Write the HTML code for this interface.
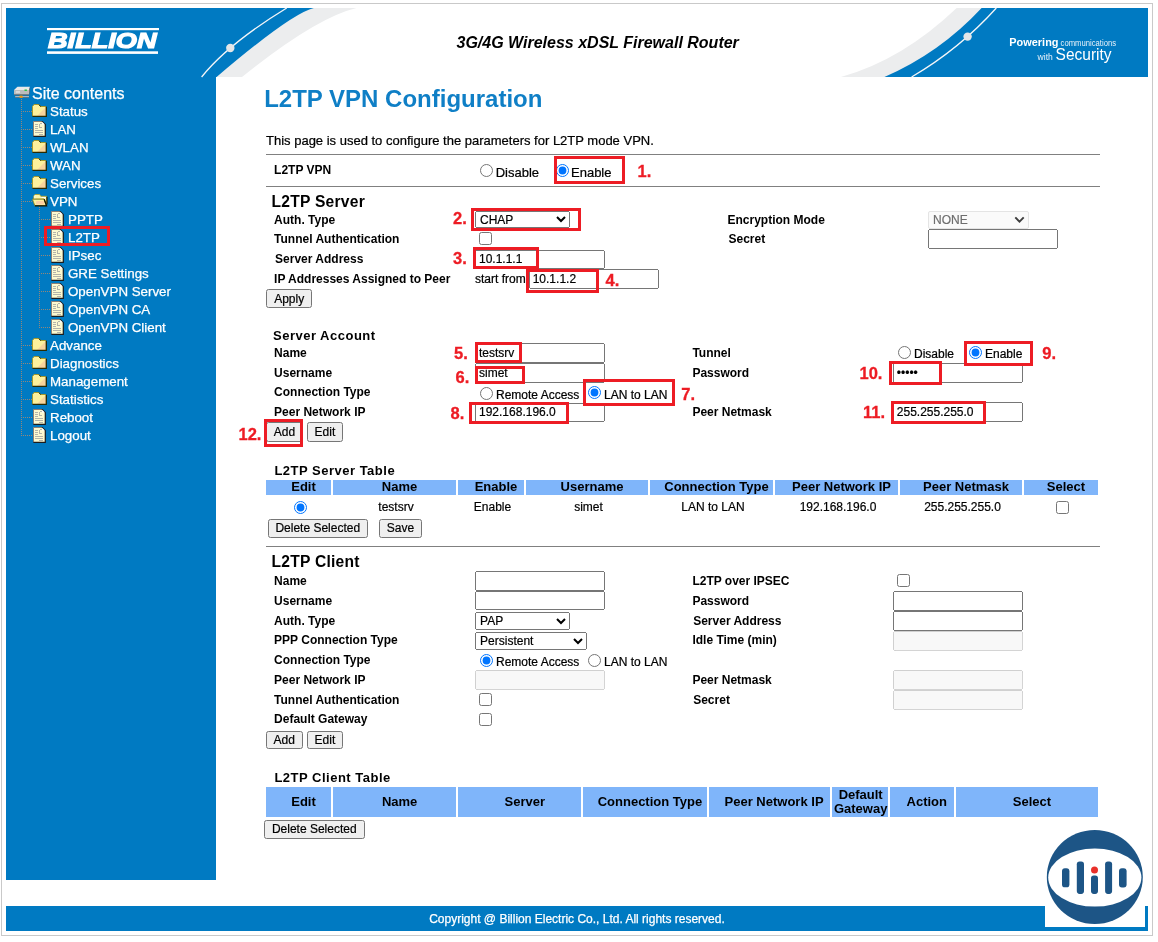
<!DOCTYPE html>
<html lang="en">
<head>
<meta charset="utf-8">
<title>L2TP VPN Configuration</title>
<style>
*{box-sizing:border-box;}
html,body{margin:0;padding:0;}
body{width:1158px;height:942px;position:relative;overflow:hidden;background:#fff;font-family:"Liberation Sans",Arial,sans-serif;color:#000;}
#frame{position:absolute;left:1px;top:3px;width:1152px;height:933px;border:1px solid #c9c9c9;}
#side{position:absolute;left:6px;top:8px;width:210px;height:872px;background:#007ac2;}
#hdr{position:absolute;left:0;top:0;width:1158px;height:80px;}
#foot{position:absolute;left:6px;top:906px;width:1142px;height:25px;background:#007ac2;color:#fff;font-size:12px;text-align:center;line-height:27px;-webkit-text-stroke:0.25px #fff;overflow:hidden;}
#tree{position:absolute;left:0;top:0;}
#tree .ic{position:absolute;display:block;}
#tree .tt{position:absolute;color:#fff;font-size:16px;-webkit-text-stroke:0.25px #fff;line-height:18px;white-space:nowrap;}
#tree .ti{position:absolute;color:#fff;font-size:13.33px;-webkit-text-stroke:0.25px #fff;line-height:18px;white-space:nowrap;}
#tree .vd{position:absolute;width:1px;background:repeating-linear-gradient(to bottom,#968778 0,#968778 1px,transparent 1px,transparent 2px);}
#tree .hd{position:absolute;height:1px;background:repeating-linear-gradient(to right,#968778 0,#968778 1px,transparent 1px,transparent 2px);}
.rb{position:absolute;border:3px solid #ed1c24;}
#main{position:absolute;left:0;top:0;}
#main .t{position:absolute;line-height:1;white-space:nowrap;}
#main .h1{color:#0f7fc6;}
#main .hd{letter-spacing:0.5px;}
#main .hb{letter-spacing:0.25px;}
#main .rn{color:#ed1c24;-webkit-text-stroke:0.3px #ed1c24;}
#main .hr{position:absolute;height:1px;background:#808080;}
#main .in{-webkit-text-stroke:0.2px #000;position:absolute;margin:0;font-family:"Liberation Sans",Arial,sans-serif;font-size:12px;padding:1px 2px;}
#main .sel{-webkit-text-stroke:0.2px currentColor;position:absolute;margin:0;font-family:"Liberation Sans",Arial,sans-serif;font-size:12px;padding:0;}
#main .rd{position:absolute;margin:0;width:13px;height:13px;}
#main .ck{position:absolute;margin:0;width:13px;height:13px;}
#main .bt{-webkit-text-stroke:0.2px #000;position:absolute;margin:0;font-family:"Liberation Sans",Arial,sans-serif;font-size:12px;padding:0;}
#main .tb{position:absolute;border-collapse:separate;border-spacing:2px;table-layout:fixed;font-size:12px;}
#main .tb th{background:#7fb5fa;font-size:13px;font-weight:bold;padding:0 0 0 10px;line-height:14.5px;text-align:center;}
#main .tb td{-webkit-text-stroke:0.2px #000;padding:0 0 0 3px;text-align:center;line-height:20px;}
#main .rdi,#main .cki{margin:0;width:13px;height:13px;vertical-align:middle;}
#main .dsel{appearance:none;-webkit-appearance:none;color:#6e6e6e;opacity:1;background:#fafafa;border:1px solid #e4e4e4;border-radius:2px;padding:0 0 0 4px;}
#main .chev{position:absolute;display:block;}

</style>
</head>
<body>
<div id="frame"></div>
<div id="side"></div>
<svg id="hdr" viewBox="0 0 1158 80">
<!-- left swoosh -->
<path d="M216 8 L356.5 8 Q315.8 17.6 242 77 L216 77 Z" fill="#ecedee"/>
<path d="M6 8 L313.9 8 Q291 13.5 216.6 77 L6 77 Z" fill="#007ac2"/>
<path d="M286.7 8 Q228.5 43.5 201.6 77" fill="none" stroke="#f4f6f8" stroke-width="1.3"/>
<circle cx="230.3" cy="48" r="4.2" fill="#e4e6e8"/>
<!-- right swoosh -->
<path d="M956.7 8 Q902.1 60.1 840.9 77 L1000 77 L1000 8 Z" fill="#ecedee"/>
<path d="M981.6 8 Q939.9 52.9 884.4 77 L1148 77 L1148 8 Z" fill="#007ac2"/>
<path d="M996.3 8 Q959.7 48.8 911.6 77" fill="none" stroke="#f4f6f8" stroke-width="1.3"/>
<circle cx="967.6" cy="36.6" r="4.2" fill="#e4e6e8"/>
<!-- logo -->
<rect x="47" y="28" width="112" height="2.2" fill="#fff"/>
<rect x="47" y="51.3" width="111" height="2.6" fill="#fff"/>
<text x="48" y="48.1" font-family="Liberation Sans, Arial, sans-serif" font-weight="bold" font-style="italic" font-size="22.2" fill="#fff" stroke="#fff" stroke-width="1.2" textLength="108.6" lengthAdjust="spacingAndGlyphs">BILLION</text>
<!-- title -->
<text x="456.5" y="48" font-family="Liberation Sans, Arial, sans-serif" font-weight="bold" font-style="italic" font-size="16" fill="#000">3G/4G Wireless xDSL Firewall Router</text>
<!-- slogan -->
<text x="1009.3" y="45.7" font-family="Liberation Sans, Arial, sans-serif" font-weight="bold" font-size="11" fill="#fff" textLength="49.2" lengthAdjust="spacingAndGlyphs">Powering</text>
<text x="1060.6" y="45.7" font-family="Liberation Sans, Arial, sans-serif" font-size="9" fill="#e8f2fa" textLength="55.4" lengthAdjust="spacingAndGlyphs">communications</text>
<text x="1037.6" y="60" font-family="Liberation Sans, Arial, sans-serif" font-size="8.5" fill="#e8f2fa" textLength="15.2" lengthAdjust="spacingAndGlyphs">with</text>
<text x="1055.6" y="60" font-family="Liberation Sans, Arial, sans-serif" font-size="16.6" fill="#fff" textLength="56" lengthAdjust="spacingAndGlyphs">Security</text>
</svg>
<div id="tree">
<svg class="ic" style="left:13px;top:86px" width="18" height="13" viewBox="0 0 18 13"><path d="M1 4 L4.5 0.8 L17 0.8 L16 4 Z" fill="#e9e9e9"/><path d="M1 4 H16 V8.8 H1 Z" fill="#bdbdbd"/><path d="M16 4 L17 0.8 L17 6 L16 8.8 Z" fill="#6e6e6e"/><path d="M1 8.8 H16" stroke="#6a6a6a" stroke-width="1"/><path d="M2.8 6 H7" stroke="#f4f4f4" stroke-width="1"/><rect x="11.5" y="3.5" width="2.4" height="1.4" fill="#1fc43c"/><rect x="2.2" y="10.2" width="13.8" height="1.3" fill="#c9c9c9"/><rect x="2.2" y="11.2" width="13.8" height="0.6" fill="#555"/><rect x="6.6" y="9.6" width="3" height="2.2" fill="#f79a10"/></svg>
<div class="tt" style="left:32px;top:84.6px">Site contents</div>
<div class="vd" style="left:21px;top:99px;height:338px"></div>
<div class="vd" style="left:39px;top:207px;height:122px"></div>
<div class="hd" style="left:23px;top:111px;width:9px"></div>
<svg class="ic" style="left:32px;top:104px" width="15" height="13" viewBox="0 0 15 13"><path d="M0.5 2.5 L2 0.5 L7 0.5 L8.5 2.5 L14 2.5 L14 12 L0.5 12 Z" fill="#fdf19c"/><path d="M14 3 L14 12 L5 12 Z" fill="#f7cf9c" opacity="0.85"/><path d="M0.5 12 L0.5 2.5 L2 0.5 L7 0.5 L8.5 2.5 L14 2.5" fill="none" stroke="#a59a2e" stroke-width="1"/><path d="M0.5 12.3 L14.3 12.3 L14.3 2.8" fill="none" stroke="#2b2b00" stroke-width="1.3"/><path d="M7 0.6 L8.6 2.6" stroke="#2b2b00" stroke-width="1"/></svg>
<div class="ti" style="left:50px;top:103.0px">Status</div>
<div class="hd" style="left:23px;top:129px;width:9px"></div>
<svg class="ic" style="left:33px;top:121px" width="13" height="16" viewBox="0 0 13 16"><path d="M0.5 0.5 L9 0.5 L12 3.5 L12 15 L0.5 15 Z" fill="#fdfad0"/><path d="M0.5 15 L0.5 0.5 L9 0.5" fill="none" stroke="#8c7f73" stroke-width="1"/><path d="M9 0.3 L12.3 3.6 L12.3 15.3 L0.4 15.3" fill="none" stroke="#1c1c1c" stroke-width="1.2"/><path d="M9 0.8 L9 3.6 L12 3.6 Z" fill="#fff"/><path d="M2 3.5 H5 M2 5.5 H5 M2 7.5 H5 M2 9.5 H10 M2 11.5 H10 M6 13.5 H10 M6.5 2.5 H8.5 M6.5 2.5 V6.5 H8.5" stroke="#b4b4aa" stroke-width="1" fill="none" shape-rendering="crispEdges"/></svg>
<div class="ti" style="left:50px;top:121.0px">LAN</div>
<div class="hd" style="left:23px;top:147px;width:9px"></div>
<svg class="ic" style="left:32px;top:140px" width="15" height="13" viewBox="0 0 15 13"><path d="M0.5 2.5 L2 0.5 L7 0.5 L8.5 2.5 L14 2.5 L14 12 L0.5 12 Z" fill="#fdf19c"/><path d="M14 3 L14 12 L5 12 Z" fill="#f7cf9c" opacity="0.85"/><path d="M0.5 12 L0.5 2.5 L2 0.5 L7 0.5 L8.5 2.5 L14 2.5" fill="none" stroke="#a59a2e" stroke-width="1"/><path d="M0.5 12.3 L14.3 12.3 L14.3 2.8" fill="none" stroke="#2b2b00" stroke-width="1.3"/><path d="M7 0.6 L8.6 2.6" stroke="#2b2b00" stroke-width="1"/></svg>
<div class="ti" style="left:50px;top:139.0px">WLAN</div>
<div class="hd" style="left:23px;top:165px;width:9px"></div>
<svg class="ic" style="left:32px;top:158px" width="15" height="13" viewBox="0 0 15 13"><path d="M0.5 2.5 L2 0.5 L7 0.5 L8.5 2.5 L14 2.5 L14 12 L0.5 12 Z" fill="#fdf19c"/><path d="M14 3 L14 12 L5 12 Z" fill="#f7cf9c" opacity="0.85"/><path d="M0.5 12 L0.5 2.5 L2 0.5 L7 0.5 L8.5 2.5 L14 2.5" fill="none" stroke="#a59a2e" stroke-width="1"/><path d="M0.5 12.3 L14.3 12.3 L14.3 2.8" fill="none" stroke="#2b2b00" stroke-width="1.3"/><path d="M7 0.6 L8.6 2.6" stroke="#2b2b00" stroke-width="1"/></svg>
<div class="ti" style="left:50px;top:157.0px">WAN</div>
<div class="hd" style="left:23px;top:183px;width:9px"></div>
<svg class="ic" style="left:32px;top:176px" width="15" height="13" viewBox="0 0 15 13"><path d="M0.5 2.5 L2 0.5 L7 0.5 L8.5 2.5 L14 2.5 L14 12 L0.5 12 Z" fill="#fdf19c"/><path d="M14 3 L14 12 L5 12 Z" fill="#f7cf9c" opacity="0.85"/><path d="M0.5 12 L0.5 2.5 L2 0.5 L7 0.5 L8.5 2.5 L14 2.5" fill="none" stroke="#a59a2e" stroke-width="1"/><path d="M0.5 12.3 L14.3 12.3 L14.3 2.8" fill="none" stroke="#2b2b00" stroke-width="1.3"/><path d="M7 0.6 L8.6 2.6" stroke="#2b2b00" stroke-width="1"/></svg>
<div class="ti" style="left:50px;top:175.0px">Services</div>
<div class="hd" style="left:23px;top:201px;width:9px"></div>
<svg class="ic" style="left:32px;top:194px" width="16" height="13" viewBox="0 0 16 13"><path d="M1.8 5 L1.8 2 L3 0.5 L7.6 0.5 L8.8 2.3 L14.6 2.3 L14.6 10 L12 5 Z" fill="#fdf6ad" stroke="#b0a432" stroke-width="0.9"/><path d="M2.4 1.6 L3.2 1 L3.2 4.4 L2.4 4.4 Z M9.6 3 L13.8 3 L13.8 3.9 L9.6 3.9 Z" fill="#fff"/><path d="M15 2.8 L15 10.6" stroke="#141400" stroke-width="1.1"/><path d="M0.4 5.2 L12 5.2 L14.3 11.6 L2.8 11.6 Z" fill="#fdf19c" stroke="#8e8420" stroke-width="0.9"/><path d="M4.5 7 L11.5 7 L12.6 10.5 L3.6 10.5 Z" fill="#fbc6a4" opacity="0.8"/><path d="M12.2 5.2 L14.6 11.9 L2.9 11.9" fill="none" stroke="#141400" stroke-width="1.3"/></svg>
<div class="ti" style="left:50px;top:193.0px">VPN</div>
<div class="hd" style="left:41px;top:219px;width:9px"></div>
<svg class="ic" style="left:51px;top:211px" width="13" height="16" viewBox="0 0 13 16"><path d="M0.5 0.5 L9 0.5 L12 3.5 L12 15 L0.5 15 Z" fill="#fdfad0"/><path d="M0.5 15 L0.5 0.5 L9 0.5" fill="none" stroke="#8c7f73" stroke-width="1"/><path d="M9 0.3 L12.3 3.6 L12.3 15.3 L0.4 15.3" fill="none" stroke="#1c1c1c" stroke-width="1.2"/><path d="M9 0.8 L9 3.6 L12 3.6 Z" fill="#fff"/><path d="M2 3.5 H5 M2 5.5 H5 M2 7.5 H5 M2 9.5 H10 M2 11.5 H10 M6 13.5 H10 M6.5 2.5 H8.5 M6.5 2.5 V6.5 H8.5" stroke="#b4b4aa" stroke-width="1" fill="none" shape-rendering="crispEdges"/></svg>
<div class="ti" style="left:68px;top:211.0px">PPTP</div>
<div class="hd" style="left:41px;top:237px;width:9px"></div>
<svg class="ic" style="left:51px;top:229px" width="13" height="16" viewBox="0 0 13 16"><path d="M0.5 0.5 L9 0.5 L12 3.5 L12 15 L0.5 15 Z" fill="#fdfad0"/><path d="M0.5 15 L0.5 0.5 L9 0.5" fill="none" stroke="#8c7f73" stroke-width="1"/><path d="M9 0.3 L12.3 3.6 L12.3 15.3 L0.4 15.3" fill="none" stroke="#1c1c1c" stroke-width="1.2"/><path d="M9 0.8 L9 3.6 L12 3.6 Z" fill="#fff"/><path d="M2 3.5 H5 M2 5.5 H5 M2 7.5 H5 M2 9.5 H10 M2 11.5 H10 M6 13.5 H10 M6.5 2.5 H8.5 M6.5 2.5 V6.5 H8.5" stroke="#b4b4aa" stroke-width="1" fill="none" shape-rendering="crispEdges"/></svg>
<div class="ti" style="left:68px;top:229.0px">L2TP</div>
<div class="hd" style="left:41px;top:255px;width:9px"></div>
<svg class="ic" style="left:51px;top:247px" width="13" height="16" viewBox="0 0 13 16"><path d="M0.5 0.5 L9 0.5 L12 3.5 L12 15 L0.5 15 Z" fill="#fdfad0"/><path d="M0.5 15 L0.5 0.5 L9 0.5" fill="none" stroke="#8c7f73" stroke-width="1"/><path d="M9 0.3 L12.3 3.6 L12.3 15.3 L0.4 15.3" fill="none" stroke="#1c1c1c" stroke-width="1.2"/><path d="M9 0.8 L9 3.6 L12 3.6 Z" fill="#fff"/><path d="M2 3.5 H5 M2 5.5 H5 M2 7.5 H5 M2 9.5 H10 M2 11.5 H10 M6 13.5 H10 M6.5 2.5 H8.5 M6.5 2.5 V6.5 H8.5" stroke="#b4b4aa" stroke-width="1" fill="none" shape-rendering="crispEdges"/></svg>
<div class="ti" style="left:68px;top:247.0px">IPsec</div>
<div class="hd" style="left:41px;top:273px;width:9px"></div>
<svg class="ic" style="left:51px;top:265px" width="13" height="16" viewBox="0 0 13 16"><path d="M0.5 0.5 L9 0.5 L12 3.5 L12 15 L0.5 15 Z" fill="#fdfad0"/><path d="M0.5 15 L0.5 0.5 L9 0.5" fill="none" stroke="#8c7f73" stroke-width="1"/><path d="M9 0.3 L12.3 3.6 L12.3 15.3 L0.4 15.3" fill="none" stroke="#1c1c1c" stroke-width="1.2"/><path d="M9 0.8 L9 3.6 L12 3.6 Z" fill="#fff"/><path d="M2 3.5 H5 M2 5.5 H5 M2 7.5 H5 M2 9.5 H10 M2 11.5 H10 M6 13.5 H10 M6.5 2.5 H8.5 M6.5 2.5 V6.5 H8.5" stroke="#b4b4aa" stroke-width="1" fill="none" shape-rendering="crispEdges"/></svg>
<div class="ti" style="left:68px;top:265.0px">GRE Settings</div>
<div class="hd" style="left:41px;top:291px;width:9px"></div>
<svg class="ic" style="left:51px;top:283px" width="13" height="16" viewBox="0 0 13 16"><path d="M0.5 0.5 L9 0.5 L12 3.5 L12 15 L0.5 15 Z" fill="#fdfad0"/><path d="M0.5 15 L0.5 0.5 L9 0.5" fill="none" stroke="#8c7f73" stroke-width="1"/><path d="M9 0.3 L12.3 3.6 L12.3 15.3 L0.4 15.3" fill="none" stroke="#1c1c1c" stroke-width="1.2"/><path d="M9 0.8 L9 3.6 L12 3.6 Z" fill="#fff"/><path d="M2 3.5 H5 M2 5.5 H5 M2 7.5 H5 M2 9.5 H10 M2 11.5 H10 M6 13.5 H10 M6.5 2.5 H8.5 M6.5 2.5 V6.5 H8.5" stroke="#b4b4aa" stroke-width="1" fill="none" shape-rendering="crispEdges"/></svg>
<div class="ti" style="left:68px;top:283.0px">OpenVPN Server</div>
<div class="hd" style="left:41px;top:309px;width:9px"></div>
<svg class="ic" style="left:51px;top:301px" width="13" height="16" viewBox="0 0 13 16"><path d="M0.5 0.5 L9 0.5 L12 3.5 L12 15 L0.5 15 Z" fill="#fdfad0"/><path d="M0.5 15 L0.5 0.5 L9 0.5" fill="none" stroke="#8c7f73" stroke-width="1"/><path d="M9 0.3 L12.3 3.6 L12.3 15.3 L0.4 15.3" fill="none" stroke="#1c1c1c" stroke-width="1.2"/><path d="M9 0.8 L9 3.6 L12 3.6 Z" fill="#fff"/><path d="M2 3.5 H5 M2 5.5 H5 M2 7.5 H5 M2 9.5 H10 M2 11.5 H10 M6 13.5 H10 M6.5 2.5 H8.5 M6.5 2.5 V6.5 H8.5" stroke="#b4b4aa" stroke-width="1" fill="none" shape-rendering="crispEdges"/></svg>
<div class="ti" style="left:68px;top:301.0px">OpenVPN CA</div>
<div class="hd" style="left:41px;top:327px;width:9px"></div>
<svg class="ic" style="left:51px;top:319px" width="13" height="16" viewBox="0 0 13 16"><path d="M0.5 0.5 L9 0.5 L12 3.5 L12 15 L0.5 15 Z" fill="#fdfad0"/><path d="M0.5 15 L0.5 0.5 L9 0.5" fill="none" stroke="#8c7f73" stroke-width="1"/><path d="M9 0.3 L12.3 3.6 L12.3 15.3 L0.4 15.3" fill="none" stroke="#1c1c1c" stroke-width="1.2"/><path d="M9 0.8 L9 3.6 L12 3.6 Z" fill="#fff"/><path d="M2 3.5 H5 M2 5.5 H5 M2 7.5 H5 M2 9.5 H10 M2 11.5 H10 M6 13.5 H10 M6.5 2.5 H8.5 M6.5 2.5 V6.5 H8.5" stroke="#b4b4aa" stroke-width="1" fill="none" shape-rendering="crispEdges"/></svg>
<div class="ti" style="left:68px;top:319.0px">OpenVPN Client</div>
<div class="hd" style="left:23px;top:345px;width:9px"></div>
<svg class="ic" style="left:32px;top:338px" width="15" height="13" viewBox="0 0 15 13"><path d="M0.5 2.5 L2 0.5 L7 0.5 L8.5 2.5 L14 2.5 L14 12 L0.5 12 Z" fill="#fdf19c"/><path d="M14 3 L14 12 L5 12 Z" fill="#f7cf9c" opacity="0.85"/><path d="M0.5 12 L0.5 2.5 L2 0.5 L7 0.5 L8.5 2.5 L14 2.5" fill="none" stroke="#a59a2e" stroke-width="1"/><path d="M0.5 12.3 L14.3 12.3 L14.3 2.8" fill="none" stroke="#2b2b00" stroke-width="1.3"/><path d="M7 0.6 L8.6 2.6" stroke="#2b2b00" stroke-width="1"/></svg>
<div class="ti" style="left:50px;top:337.0px">Advance</div>
<div class="hd" style="left:23px;top:363px;width:9px"></div>
<svg class="ic" style="left:32px;top:356px" width="15" height="13" viewBox="0 0 15 13"><path d="M0.5 2.5 L2 0.5 L7 0.5 L8.5 2.5 L14 2.5 L14 12 L0.5 12 Z" fill="#fdf19c"/><path d="M14 3 L14 12 L5 12 Z" fill="#f7cf9c" opacity="0.85"/><path d="M0.5 12 L0.5 2.5 L2 0.5 L7 0.5 L8.5 2.5 L14 2.5" fill="none" stroke="#a59a2e" stroke-width="1"/><path d="M0.5 12.3 L14.3 12.3 L14.3 2.8" fill="none" stroke="#2b2b00" stroke-width="1.3"/><path d="M7 0.6 L8.6 2.6" stroke="#2b2b00" stroke-width="1"/></svg>
<div class="ti" style="left:50px;top:355.0px">Diagnostics</div>
<div class="hd" style="left:23px;top:381px;width:9px"></div>
<svg class="ic" style="left:32px;top:374px" width="15" height="13" viewBox="0 0 15 13"><path d="M0.5 2.5 L2 0.5 L7 0.5 L8.5 2.5 L14 2.5 L14 12 L0.5 12 Z" fill="#fdf19c"/><path d="M14 3 L14 12 L5 12 Z" fill="#f7cf9c" opacity="0.85"/><path d="M0.5 12 L0.5 2.5 L2 0.5 L7 0.5 L8.5 2.5 L14 2.5" fill="none" stroke="#a59a2e" stroke-width="1"/><path d="M0.5 12.3 L14.3 12.3 L14.3 2.8" fill="none" stroke="#2b2b00" stroke-width="1.3"/><path d="M7 0.6 L8.6 2.6" stroke="#2b2b00" stroke-width="1"/></svg>
<div class="ti" style="left:50px;top:373.0px">Management</div>
<div class="hd" style="left:23px;top:399px;width:9px"></div>
<svg class="ic" style="left:32px;top:392px" width="15" height="13" viewBox="0 0 15 13"><path d="M0.5 2.5 L2 0.5 L7 0.5 L8.5 2.5 L14 2.5 L14 12 L0.5 12 Z" fill="#fdf19c"/><path d="M14 3 L14 12 L5 12 Z" fill="#f7cf9c" opacity="0.85"/><path d="M0.5 12 L0.5 2.5 L2 0.5 L7 0.5 L8.5 2.5 L14 2.5" fill="none" stroke="#a59a2e" stroke-width="1"/><path d="M0.5 12.3 L14.3 12.3 L14.3 2.8" fill="none" stroke="#2b2b00" stroke-width="1.3"/><path d="M7 0.6 L8.6 2.6" stroke="#2b2b00" stroke-width="1"/></svg>
<div class="ti" style="left:50px;top:391.0px">Statistics</div>
<div class="hd" style="left:23px;top:417px;width:9px"></div>
<svg class="ic" style="left:33px;top:409px" width="13" height="16" viewBox="0 0 13 16"><path d="M0.5 0.5 L9 0.5 L12 3.5 L12 15 L0.5 15 Z" fill="#fdfad0"/><path d="M0.5 15 L0.5 0.5 L9 0.5" fill="none" stroke="#8c7f73" stroke-width="1"/><path d="M9 0.3 L12.3 3.6 L12.3 15.3 L0.4 15.3" fill="none" stroke="#1c1c1c" stroke-width="1.2"/><path d="M9 0.8 L9 3.6 L12 3.6 Z" fill="#fff"/><path d="M2 3.5 H5 M2 5.5 H5 M2 7.5 H5 M2 9.5 H10 M2 11.5 H10 M6 13.5 H10 M6.5 2.5 H8.5 M6.5 2.5 V6.5 H8.5" stroke="#b4b4aa" stroke-width="1" fill="none" shape-rendering="crispEdges"/></svg>
<div class="ti" style="left:50px;top:409.0px">Reboot</div>
<div class="hd" style="left:23px;top:435px;width:9px"></div>
<svg class="ic" style="left:33px;top:427px" width="13" height="16" viewBox="0 0 13 16"><path d="M0.5 0.5 L9 0.5 L12 3.5 L12 15 L0.5 15 Z" fill="#fdfad0"/><path d="M0.5 15 L0.5 0.5 L9 0.5" fill="none" stroke="#8c7f73" stroke-width="1"/><path d="M9 0.3 L12.3 3.6 L12.3 15.3 L0.4 15.3" fill="none" stroke="#1c1c1c" stroke-width="1.2"/><path d="M9 0.8 L9 3.6 L12 3.6 Z" fill="#fff"/><path d="M2 3.5 H5 M2 5.5 H5 M2 7.5 H5 M2 9.5 H10 M2 11.5 H10 M6 13.5 H10 M6.5 2.5 H8.5 M6.5 2.5 V6.5 H8.5" stroke="#b4b4aa" stroke-width="1" fill="none" shape-rendering="crispEdges"/></svg>
<div class="ti" style="left:50px;top:427.0px">Logout</div>
<div class="rb" style="left:44px;top:226px;width:65.5px;height:20px"></div>
</div>
<div id="main">
<div class="t h1" style="left:264.2px;top:86.9px;font-size:24px;font-weight:bold;">L2TP VPN Configuration</div>
<div class="t " style="left:266.0px;top:133.6px;font-size:13px;-webkit-text-stroke:0.22px #000;">This page is used to configure the parameters for L2TP mode VPN.</div>
<div class="hr" style="left:266px;top:154.0px;width:834px"></div>
<div class="t " style="left:274.1px;top:163.6px;font-size:12px;font-weight:bold;">L2TP VPN</div>
<input class="rd" type="radio" style="left:479.8px;top:164.2px">
<div class="t " style="left:495.7px;top:165.5px;font-size:13px;-webkit-text-stroke:0.22px #000;">Disable</div>
<input class="rd" type="radio" style="left:555.9px;top:163.8px" checked>
<div class="t " style="left:571.0px;top:165.5px;font-size:13px;-webkit-text-stroke:0.22px #000;">Enable</div>
<div class="hr" style="left:266px;top:186.0px;width:834px"></div>
<div class="t hb" style="left:271.5px;top:193.6px;font-size:15.6px;font-weight:bold;">L2TP Server</div>
<div class="t " style="left:274.1px;top:213.8px;font-size:12px;font-weight:bold;">Auth. Type</div>
<select class="sel" style="left:475.0px;top:211.0px;width:95px;height:17px"><option>CHAP</option></select>
<div class="t " style="left:727.5px;top:213.8px;font-size:12px;font-weight:bold;">Encryption Mode</div>
<select class="sel dsel" disabled style="left:928px;top:211px;width:101px;height:17.5px"><option>NONE</option></select>
<svg class="chev" style="left:1013.5px;top:216.4px" width="11" height="8" viewBox="0 0 11 8"><path d="M1.3 1.4 L5.5 5.7 L9.7 1.4" fill="none" stroke="#3d3d3d" stroke-width="1.9"/></svg>
<div class="t " style="left:274.1px;top:232.8px;font-size:12px;font-weight:bold;">Tunnel Authentication</div>
<input class="ck" type="checkbox" style="left:479.0px;top:232.0px">
<div class="t " style="left:728.5px;top:232.8px;font-size:12px;font-weight:bold;">Secret</div>
<input class="in" type="text" value="" style="left:928.0px;top:229.2px;width:130px;height:19.7px;">
<div class="t " style="left:275.1px;top:252.8px;font-size:12px;font-weight:bold;">Server Address</div>
<input class="in" type="text" value="10.1.1.1" style="left:475.0px;top:249.5px;width:130px;height:19.7px;">
<div class="t " style="left:274.1px;top:272.8px;font-size:12px;font-weight:bold;">IP Addresses Assigned to Peer</div>
<div class="t " style="left:475.0px;top:272.8px;font-size:12px;-webkit-text-stroke:0.22px #000;">start from</div>
<input class="in" type="text" value="10.1.1.2" style="left:528.7px;top:269.3px;width:130px;height:19.7px;">
<button class="bt" type="button" style="left:266.4px;top:289.3px;width:45.5px;height:19px">Apply</button>
<div class="t hd" style="left:273.0px;top:328.7px;font-size:13px;font-weight:bold;">Server Account</div>
<div class="t " style="left:274.1px;top:346.7px;font-size:12px;font-weight:bold;">Name</div>
<input class="in" type="text" value="testsrv" style="left:475.0px;top:343.2px;width:130px;height:19.7px;">
<div class="t " style="left:692.4px;top:346.7px;font-size:12px;font-weight:bold;">Tunnel</div>
<input class="rd" type="radio" style="left:897.9px;top:346.1px">
<div class="t " style="left:914.0px;top:348.4px;font-size:12px;-webkit-text-stroke:0.22px #000;">Disable</div>
<input class="rd" type="radio" style="left:969.1px;top:345.9px" checked>
<div class="t " style="left:985.0px;top:348.4px;font-size:12px;-webkit-text-stroke:0.22px #000;">Enable</div>
<div class="t " style="left:274.1px;top:366.8px;font-size:12px;font-weight:bold;">Username</div>
<input class="in" type="text" value="simet" style="left:475.0px;top:363.0px;width:130px;height:19.7px;">
<div class="t " style="left:692.4px;top:366.8px;font-size:12px;font-weight:bold;">Password</div>
<input class="in" type="password" value="12345" style="left:892.8px;top:363.0px;width:130px;height:19.7px;">
<div class="t " style="left:274.1px;top:385.8px;font-size:12px;font-weight:bold;">Connection Type</div>
<input class="rd" type="radio" style="left:480.1px;top:386.5px">
<div class="t " style="left:496.0px;top:388.6px;font-size:12px;-webkit-text-stroke:0.22px #000;">Remote Access</div>
<input class="rd" type="radio" style="left:587.9px;top:386.2px" checked>
<div class="t " style="left:604.0px;top:388.6px;font-size:12px;-webkit-text-stroke:0.22px #000;">LAN to LAN</div>
<div class="t " style="left:274.1px;top:406.0px;font-size:12px;font-weight:bold;">Peer Network IP</div>
<input class="in" type="text" value="192.168.196.0" style="left:475.0px;top:402.6px;width:130px;height:19.7px;">
<div class="t " style="left:692.4px;top:406.0px;font-size:12px;font-weight:bold;">Peer Netmask</div>
<input class="in" type="text" value="255.255.255.0" style="left:892.8px;top:402.3px;width:130px;height:19.7px;">
<button class="bt" type="button" style="left:266.0px;top:422.3px;width:37px;height:19.3px">Add</button>
<button class="bt" type="button" style="left:307.2px;top:422.3px;width:35.4px;height:19.3px">Edit</button>
<div class="t hd" style="left:274.4px;top:464.0px;font-size:13px;font-weight:bold;">L2TP Server Table</div>
<table class="tb" style="left:264px;top:478px;width:836px"><tr>
<th style="width:65px">Edit</th>
<th style="width:123px">Name</th>
<th style="width:66px">Enable</th>
<th style="width:122px">Username</th>
<th style="width:123px">Connection Type</th>
<th style="width:123px">Peer Network IP</th>
<th style="width:122px">Peer Netmask</th>
<th style="width:74px">Select</th>
</tr><tr><td><input class="rdi" type="radio" checked></td><td>testsrv</td><td>Enable</td><td>simet</td><td>LAN to LAN</td><td>192.168.196.0</td><td>255.255.255.0</td><td><input class="cki" type="checkbox"></td></tr></table>
<button class="bt" type="button" style="left:267.5px;top:518.5px;width:100.5px;height:19px">Delete Selected</button>
<button class="bt" type="button" style="left:379.4px;top:518.5px;width:42.3px;height:19px">Save</button>
<div class="hr" style="left:266px;top:546.0px;width:834px"></div>
<div class="t hb" style="left:271.5px;top:553.7px;font-size:15.6px;font-weight:bold;">L2TP Client</div>
<div class="t " style="left:274.1px;top:574.8px;font-size:12px;font-weight:bold;">Name</div>
<input class="in" type="text" value="" style="left:475.0px;top:571.0px;width:130px;height:19.7px;">
<div class="t " style="left:692.4px;top:574.8px;font-size:12px;font-weight:bold;">L2TP over IPSEC</div>
<input class="ck" type="checkbox" style="left:897.0px;top:574.0px">
<div class="t " style="left:274.1px;top:594.8px;font-size:12px;font-weight:bold;">Username</div>
<input class="in" type="text" value="" style="left:475.0px;top:590.8px;width:130px;height:19.7px;">
<div class="t " style="left:692.4px;top:594.8px;font-size:12px;font-weight:bold;">Password</div>
<input class="in" type="password" value="" style="left:892.8px;top:591.0px;width:130px;height:19.7px;">
<div class="t " style="left:274.1px;top:614.8px;font-size:12px;font-weight:bold;">Auth. Type</div>
<select class="sel" style="left:475.1px;top:612.2px;width:94.5px;height:17.5px"><option>PAP</option></select>
<div class="t " style="left:693.2px;top:614.8px;font-size:12px;font-weight:bold;">Server Address</div>
<input class="in" type="text" value="" style="left:892.8px;top:610.9px;width:130px;height:19.7px;">
<div class="t " style="left:274.1px;top:633.8px;font-size:12px;font-weight:bold;">PPP Connection Type</div>
<select class="sel" style="left:475.1px;top:632.3px;width:111.5px;height:17.6px"><option>Persistent</option></select>
<div class="t " style="left:692.4px;top:633.8px;font-size:12px;font-weight:bold;">Idle Time (min)</div>
<input class="in" type="text" value="" style="left:892.8px;top:631.0px;width:130px;height:19.7px;" disabled>
<div class="t " style="left:274.1px;top:653.8px;font-size:12px;font-weight:bold;">Connection Type</div>
<input class="rd" type="radio" style="left:480.1px;top:653.8px" checked>
<div class="t " style="left:496.0px;top:656.4px;font-size:12px;-webkit-text-stroke:0.22px #000;">Remote Access</div>
<input class="rd" type="radio" style="left:587.9px;top:653.8px">
<div class="t " style="left:604.0px;top:656.4px;font-size:12px;-webkit-text-stroke:0.22px #000;">LAN to LAN</div>
<div class="t " style="left:274.1px;top:673.8px;font-size:12px;font-weight:bold;">Peer Network IP</div>
<input class="in" type="text" value="" style="left:475.0px;top:670.2px;width:130px;height:19.7px;" disabled>
<div class="t " style="left:692.4px;top:673.8px;font-size:12px;font-weight:bold;">Peer Netmask</div>
<input class="in" type="text" value="" style="left:892.8px;top:670.2px;width:130px;height:19.7px;" disabled>
<div class="t " style="left:274.1px;top:693.8px;font-size:12px;font-weight:bold;">Tunnel Authentication</div>
<input class="ck" type="checkbox" style="left:479.0px;top:693.3px">
<div class="t " style="left:693.2px;top:693.8px;font-size:12px;font-weight:bold;">Secret</div>
<input class="in" type="text" value="" style="left:892.8px;top:690.2px;width:130px;height:19.7px;" disabled>
<div class="t " style="left:274.1px;top:712.8px;font-size:12px;font-weight:bold;">Default Gateway</div>
<input class="ck" type="checkbox" style="left:479.0px;top:712.8px">
<button class="bt" type="button" style="left:265.8px;top:730.5px;width:37px;height:18.5px">Add</button>
<button class="bt" type="button" style="left:307.2px;top:730.5px;width:35.5px;height:18.5px">Edit</button>
<div class="t hd" style="left:274.4px;top:771.0px;font-size:13px;font-weight:bold;">L2TP Client Table</div>
<table class="tb" style="left:264px;top:785px;width:836px"><tr style="height:30px">
<th style="width:65px">Edit</th>
<th style="width:123px">Name</th>
<th style="width:123px">Server</th>
<th style="width:123px">Connection Type</th>
<th style="width:121px">Peer Network IP</th>
<th style="width:56px;padding-left:2px">Default Gateway</th>
<th style="width:64px">Action</th>
<th style="width:142px">Select</th>
</tr></table>
<button class="bt" type="button" style="left:264.0px;top:819.5px;width:100.5px;height:19.3px">Delete Selected</button>
<div class="rb" style="left:554.2px;top:156.4px;width:70.5px;height:28.0px"></div>
<div class="t rn" style="left:637.5px;top:163.0px;font-size:16.5px;font-weight:bold;">1.</div>
<div class="rb" style="left:471.0px;top:208.0px;width:110.0px;height:23.0px"></div>
<div class="t rn" style="left:453.0px;top:209.6px;font-size:16.5px;font-weight:bold;">2.</div>
<div class="rb" style="left:473.2px;top:247.4px;width:65.8px;height:21.2px"></div>
<div class="t rn" style="left:453.0px;top:250.0px;font-size:16.5px;font-weight:bold;">3.</div>
<div class="rb" style="left:526.0px;top:268.5px;width:73.2px;height:24.1px"></div>
<div class="t rn" style="left:605.5px;top:272.2px;font-size:16.5px;font-weight:bold;">4.</div>
<div class="rb" style="left:474.5px;top:341.6px;width:47.6px;height:21.2px"></div>
<div class="t rn" style="left:454.0px;top:344.7px;font-size:16.5px;font-weight:bold;">5.</div>
<div class="rb" style="left:475.0px;top:365.5px;width:49.7px;height:18.8px"></div>
<div class="t rn" style="left:455.5px;top:368.5px;font-size:16.5px;font-weight:bold;">6.</div>
<div class="rb" style="left:583.3px;top:379.4px;width:91.7px;height:27.0px"></div>
<div class="t rn" style="left:681.3px;top:385.6px;font-size:16.5px;font-weight:bold;">7.</div>
<div class="rb" style="left:469.3px;top:402.0px;width:99.5px;height:22.4px"></div>
<div class="t rn" style="left:450.5px;top:404.8px;font-size:16.5px;font-weight:bold;">8.</div>
<div class="rb" style="left:964.0px;top:341.4px;width:68.8px;height:24.2px"></div>
<div class="t rn" style="left:1042.3px;top:345.0px;font-size:16.5px;font-weight:bold;">9.</div>
<div class="rb" style="left:889.4px;top:361.1px;width:52.4px;height:23.8px"></div>
<div class="t rn" style="left:859.5px;top:365.3px;font-size:16.5px;font-weight:bold;">10.</div>
<div class="rb" style="left:890.8px;top:401.1px;width:95.0px;height:22.6px"></div>
<div class="t rn" style="left:863.0px;top:404.1px;font-size:16.5px;font-weight:bold;">11.</div>
<div class="rb" style="left:264.0px;top:419.0px;width:39.0px;height:27.7px"></div>
<div class="t rn" style="left:238.5px;top:425.7px;font-size:16.5px;font-weight:bold;">12.</div>
</div>
<div id="foot">Copyright @ Billion Electric Co., Ltd. All rights reserved.</div>
<svg id="logo" style="position:absolute;left:1045px;top:827px" width="100" height="100" viewBox="0 0 100 100">
<rect x="0" y="0" width="100" height="100" fill="#fff"/>
<ellipse cx="49.8" cy="50" rx="48" ry="47" fill="#1d5586"/>
<ellipse cx="49.8" cy="50.6" rx="46.6" ry="29" fill="#fff"/>
<rect x="17" y="41.3" width="7.4" height="19" rx="2.9" fill="#1d5586"/>
<rect x="31.8" y="34.5" width="7.2" height="32.4" rx="2.8" fill="#1d5586"/>
<rect x="46" y="48.4" width="7" height="18.5" rx="2.8" fill="#1d5586"/>
<circle cx="49.5" cy="43" r="3.5" fill="#e9302a"/>
<rect x="60.1" y="34.5" width="7" height="32.4" rx="2.8" fill="#1d5586"/>
<rect x="74" y="41.3" width="7.6" height="19.2" rx="2.9" fill="#1d5586"/>
</svg>

</body>
</html>
